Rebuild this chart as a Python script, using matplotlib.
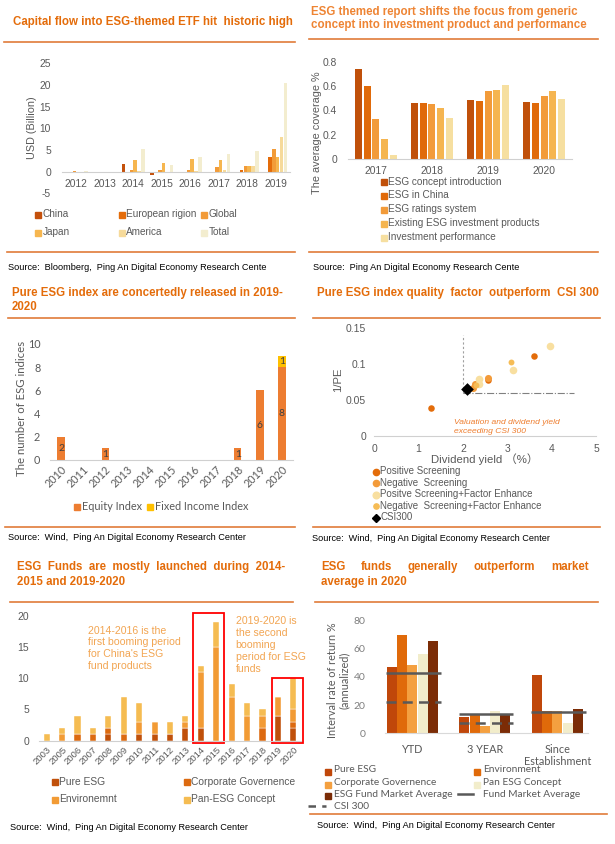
import matplotlib
matplotlib.use('Agg')
import matplotlib.pyplot as plt
from matplotlib.lines import Line2D
from matplotlib.patches import Rectangle
import numpy as np

plt.rcParams['font.family'] = ['Liberation Sans', 'DejaVu Sans']
plt.rcParams['axes.unicode_minus'] = False

# ---------------- DATA ----------------
# Panel 1: ETF capital flow (USD billion)
etf_years = ['2012', '2013', '2014', '2015', '2016', '2017', '2018', '2019']
etf_series = ['China', 'European rigion', 'Global', 'Japan', 'America', 'Total']
etf_china = [0, 0, 1.7, -0.7, -0.4, 0, 0, 0]
etf_europe = [0, 0, 0, 0, 0, 0, 0.5, 3.5]
etf_global = [0.2, -0.2, 0.4, 0.4, 0.4, 1.0, 1.4, 5.2]
etf_japan = [0, 0, 2.6, 1.9, 3.0, 2.7, 1.4, 3.5]
etf_america = [0, 0, 0.2, 0, 0.1, 0.4, 1.4, 7.9]
etf_total = [0.15, -0.15, 5.3, 1.6, 3.3, 4.2, 4.8, 20.5]

# Panel 2: report coverage
rep_years = ['2017', '2018', '2019', '2020']
rep_series = ['ESG concept introduction', 'ESG in China', 'ESG ratings system',
              'Existing ESG investment products', 'Investment performance']
rep_concept = [0.74, 0.46, 0.49, 0.47]
rep_china = [0.60, 0.465, 0.48, 0.46]
rep_ratings = [0.33, 0.45, 0.56, 0.52]
rep_products = [0.17, 0.42, 0.57, 0.56]
rep_perf = [0.035, 0.34, 0.61, 0.495]

# Panel 3: number of pure ESG indices
idx_years = ['2010', '2011', '2012', '2013', '2014', '2015', '2016', '2017', '2018', '2019', '2020']
idx_equity = [2, 0, 1, 0, 0, 0, 0, 0, 1, 6, 8]
idx_fixed = [0, 0, 0, 0, 0, 0, 0, 0, 0, 0, 1]

# Panel 4: dividend yield vs 1/PE
pos_x = [1.28, 3.61, 2.57]
pos_y = [0.039, 0.111, 0.078]
neg_x = [2.56, 2.27, 2.22]
neg_y = [0.081, 0.072, 0.067]
posf_x = [3.96, 3.12, 2.37, 2.36]
posf_y = [0.125, 0.092, 0.079, 0.072]
negf_x = [3.09, 2.30]
negf_y = [0.103, 0.070]
csi_x = [2.10]
csi_y = [0.0646]

# Panel 5: ESG funds launched
fund_years = ['2003', '2005', '2006', '2007', '2008', '2009', '2010', '2011', '2012',
              '2013', '2014', '2015', '2016', '2017', '2018', '2019', '2020']
fund_pure = [0, 0, 0, 0, 1, 0, 1, 1, 1, 2, 2, 0, 0, 0, 0, 4, 2]
fund_corp = [0, 0, 1, 1, 1, 1, 0, 0, 0, 0, 0, 0, 0, 0, 2, 0, 1]
fund_env = [0, 1, 0, 0, 0, 0, 2, 2, 0, 1, 9, 15, 7, 4, 2, 3, 2]
fund_pan = [1, 1, 3, 1, 2, 6, 3, 0, 2, 1, 1, 4, 2, 2, 1, 0, 5]

# Panel 6: returns
ret_groups = ['YTD', '3 YEAR', 'Since\nEstablishment']
ret_pure = [46.8, 11.5, 41.7]
ret_env = [70, 13.5, 15.5]
ret_corp = [48.2, 5, 15.9]
ret_pan = [56.6, 16, 7]
ret_esgavg = [65.3, 13.5, 17.3]
ret_fundavg = [42.6, 14, 15]
ret_csi = [22, 7, None]

# ---------------- FIGURE ----------------
W, H = 615, 844
fig = plt.figure(figsize=(W / 100, H / 100), dpi=100)

ORANGE = '#E46C0A'
LINEC = '#E07B39'
GRAY = '#595959'


def fx(x):
    return x / W


def fy(y):
    return 1 - y / H


def add_ax(l, t, r, b):
    return fig.add_axes([l / W, 1 - b / H, (r - l) / W, (b - t) / H])


def ftext(x, y, s, **kw):
    kw.setdefault('va', 'center')
    kw.setdefault('ha', 'left')
    return fig.text(fx(x), fy(y), s, **kw)


def hline(y, x0, x1, color=LINEC, lw=1.2):
    fig.add_artist(Line2D([fx(x0), fx(x1)], [fy(y), fy(y)], color=color, lw=lw,
                          transform=fig.transFigure))


def mark(x, y, color, size=4.5, marker='s'):
    fig.add_artist(Line2D([fx(x)], [fy(y)], marker=marker, ms=size, color=color,
                          mec=color, ls='none', transform=fig.transFigure))


def seg(x0, x1, y, color=GRAY, lw=1.8, ls='-'):
    fig.add_artist(Line2D([fx(x0), fx(x1)], [fy(y), fy(y)], color=color, lw=lw, ls=ls,
                          transform=fig.transFigure))


def clean(ax):
    for s in ax.spines.values():
        s.set_visible(False)
    ax.tick_params(length=0, colors=GRAY)


TFS = 8.3
SFS = 6.6

# ======== Panel 1 ========
ftext(12.7, 21.7, 'Capital flow into ESG-themed ETF hit  historic high', fontsize=TFS,
      fontweight='bold', color=ORANGE)
hline(42, 4, 295)
ax1 = add_ax(62, 63.3, 290, 193.4)
clean(ax1)
c1 = ['#C4510C', '#E46C0A', '#F29B38', '#F6B64F', '#F6DA9A', '#F3EDCF']
vals1 = [etf_china, etf_europe, etf_global, etf_japan, etf_america, etf_total]
x1 = np.arange(len(etf_years))
for i, (v, c) in enumerate(zip(vals1, c1)):
    ax1.bar(x1 + (i - 2.5) * 0.134, v, width=0.125, color=c)
ax1.set_xlim(-0.5, len(etf_years) - 0.5)
ax1.set_ylim(-5, 25)
ax1.set_yticks(range(-5, 26, 5))
ax1.set_xticks(x1)
ax1.set_xticklabels(etf_years)
ax1.spines['bottom'].set_visible(True)
ax1.spines['bottom'].set_position(('data', 0))
ax1.spines['bottom'].set_color('#D0D0D0')
ax1.tick_params(axis='x', pad=5, labelsize=7.4)
ax1.tick_params(axis='y', pad=8, labelsize=7.4)
ftext(31.7, 128, 'USD (Billion)', rotation=90, ha='center', fontsize=7.8, color=GRAY)
leg1 = [(38.3, 214.3), (122.3, 214.3), (204.3, 214.3), (38.3, 232.3), (122.3, 232.3), (204.3, 232.3)]
for (lx, ly), c, name in zip(leg1, c1, etf_series):
    mark(lx, ly + 0.5, c, size=4.3)
    ftext(lx + 4, ly, name, fontsize=7.2, color=GRAY)
hline(252, 6.7, 295)
ftext(8.3, 267, 'Source:  Bloomberg,  Ping An Digital Economy Research Cente', fontsize=SFS, color='black')

# ======== Panel 2 ========
ftext(311, 11.7, 'ESG themed report shifts the focus from generic', fontsize=TFS, fontweight='bold', color='#EE8433')
ftext(311, 25.3, 'concept into investment product and performance', fontsize=TFS, fontweight='bold', color='#EE8433')
hline(39.3, 309, 598)
ax2 = add_ax(348, 61.7, 572, 159.3)
clean(ax2)
c2 = ['#C0500A', '#E06A0A', '#F29B3A', '#F5B550', '#F6DFA0']
vals2 = [rep_concept, rep_china, rep_ratings, rep_products, rep_perf]
x2 = np.arange(len(rep_years))
for i, (v, c) in enumerate(zip(vals2, c2)):
    ax2.bar(x2 + (i - 2) * 0.152, v, width=0.125, color=c)
ax2.set_xlim(-0.5, 3.5)
ax2.set_ylim(0, 0.8)
ax2.set_yticks([0, 0.2, 0.4, 0.6, 0.8])
ax2.set_yticklabels(['0', '0.2', '0.4', '0.6', '0.8'])
ax2.set_xticks(x2)
ax2.set_xticklabels(rep_years)
ax2.spines['bottom'].set_visible(True)
ax2.spines['bottom'].set_color('#D0D0D0')
ax2.tick_params(axis='x', pad=5, labelsize=7.4)
ax2.tick_params(axis='y', pad=8, labelsize=7.4)
ftext(316.7, 133, 'The average coverage %', rotation=90, ha='center', fontsize=7.8, color=GRAY)
for k, (c, name) in enumerate(zip(c2, rep_series)):
    ly = [181.7, 195, 209.3, 223.3, 237.3][k]
    mark(384, ly + 0.5, c, size=4.3)
    ftext(388.3, ly, name, fontsize=7.2, color=GRAY)
hline(252, 309, 598)
ftext(313.3, 267, 'Source:  Ping An Digital Economy Research Cente', fontsize=SFS, color='black')

# ======== Panel 3 ========
ftext(12, 292.7, 'Pure ESG index are concertedly released in 2019-', fontsize=TFS, fontweight='bold', color=ORANGE)
ftext(12, 306.7, '2020', fontsize=TFS, fontweight='bold', color=ORANGE)
hline(317.7, 8.3, 295)
ax3 = add_ax(50, 344, 293, 460)
clean(ax3)
x3 = np.arange(len(idx_years))
ax3.bar(x3, idx_equity, width=0.33, color='#ED7D31')
ax3.bar(x3, idx_fixed, bottom=idx_equity, width=0.33, color='#FFC000')
for i in x3:
    if idx_equity[i] > 0:
        ax3.text(i, idx_equity[i] / 2, str(idx_equity[i]), ha='center', va='center', fontsize=7.5,
                 color='#404040', family=['Lato', 'DejaVu Sans'])
    if idx_fixed[i] > 0:
        ax3.text(i, idx_equity[i] + idx_fixed[i] / 2, str(idx_fixed[i]), ha='center', va='center',
                 fontsize=7.5, color='#404040', family=['Lato', 'DejaVu Sans'])
ax3.set_xlim(-0.5, 10.5)
ax3.set_ylim(0, 10)
ax3.set_yticks(range(0, 11, 2))
ax3.set_xticks(x3)
ax3.set_xticklabels(idx_years, rotation=45, ha='right', va='top', rotation_mode='anchor')
ax3.spines['bottom'].set_visible(True)
ax3.spines['bottom'].set_color('#D0D0D0')
for lab in ax3.get_xticklabels() + ax3.get_yticklabels():
    lab.set_family(['Lato', 'DejaVu Sans'])
ax3.tick_params(axis='x', pad=3, labelsize=7.8)
ax3.tick_params(axis='y', pad=7, labelsize=7.8)
ftext(21.7, 408, 'The number of ESG indices', rotation=90, ha='center', fontsize=8.2, color=GRAY,
      family=['Lato', 'DejaVu Sans'])
mark(76.7, 507, '#ED7D31', size=4.3)
ftext(82, 506.7, 'Equity Index', fontsize=7.8, color=GRAY, family=['Lato', 'DejaVu Sans'])
mark(149.7, 507, '#FFC000', size=4.3)
ftext(155, 506.7, 'Fixed Income Index', fontsize=7.8, color=GRAY, family=['Lato', 'DejaVu Sans'])
hline(526.7, 5, 295)
ftext(8.3, 537.5, 'Source:  Wind,  Ping An Digital Economy Research Center', fontsize=SFS, color='black')

# ======== Panel 4 ========
ftext(316.7, 292.7, 'Pure ESG index quality  factor  outperform  CSI 300', fontsize=TFS, fontweight='bold', color=ORANGE)
hline(318.3, 313, 600)
ax4 = add_ax(374.3, 327.7, 596, 436)
clean(ax4)
ax4.plot([2, 2], [0.06, 0.14], color='#A0A0A0', lw=0.8, ls=(0, (2, 2)))
ax4.plot([2, 4.5], [0.06, 0.06], color='#808080', lw=0.8, ls='-.')
ax4.scatter(pos_x, pos_y, s=22, color='#E36C0A', zorder=3, linewidths=0)
ax4.scatter(neg_x, neg_y, s=26, color='#F39B3A', zorder=3, linewidths=0)
ax4.scatter(posf_x, posf_y, s=30, color='#F8DFA0', zorder=3, linewidths=0)
ax4.scatter(negf_x, negf_y, s=18, color='#F6BC55', zorder=3, linewidths=0)
ax4.scatter(csi_x, csi_y, s=42, color='black', marker='D', zorder=4, linewidths=0)
ax4.set_xlim(0, 5)
ax4.set_ylim(0, 0.15)
ax4.set_xticks(range(0, 6))
ax4.set_yticks([0, 0.05, 0.1, 0.15])
ax4.set_yticklabels(['0', '0.05', '0.1', '0.15'])
ax4.spines['bottom'].set_visible(True)
ax4.spines['bottom'].set_color('#D0D0D0')
ax4.tick_params(axis='x', pad=6, labelsize=7.5)
ax4.tick_params(axis='y', pad=6, labelsize=7.5)
ax4.text(1.8, 0.0125, 'Valuation and dividend yield\nexceeding CSI 300', style='italic', color='#EE7D2E',
         fontsize=6.1, ha='left', va='center', linespacing=1.35)
ftext(485, 459, 'Dividend yield （%）', ha='center', fontsize=8.2, color=GRAY,
      family=['Liberation Sans', 'Noto Sans CJK SC', 'DejaVu Sans'])
ftext(338.3, 380, '1/PE', rotation=90, ha='center', fontsize=8.2, color=GRAY)
leg4 = [('Positive Screening', '#E36C0A', 'o', 4.5), ('Negative  Screening', '#F39B3A', 'o', 4.5),
        ('Positve Screening+Factor Enhance', '#F8DFA0', 'o', 4.8),
        ('Negative  Screening+Factor Enhance', '#F6BC55', 'o', 3.8), ('CSI300', 'black', 'D', 4.0)]
for k, (name, c, m, ms) in enumerate(leg4):
    ly = [471, 482.7, 494, 505.7, 517][k]
    mark(375.7, ly + 0.5, c, size=ms, marker=m)
    ftext(380.3, ly, name, fontsize=7.0, color=GRAY)
hline(526.7, 313, 600)
ftext(311.7, 538.3, 'Source:  Wind,  Ping An Digital Economy Research Center', fontsize=SFS, color='black')

# ======== Panel 5 ========
ftext(16.7, 566.7, 'ESG  Funds  are  mostly  launched  during  2014-', fontsize=TFS, fontweight='bold', color=ORANGE)
ftext(16.7, 581.7, '2015 and 2019-2020', fontsize=TFS, fontweight='bold', color=ORANGE)
hline(601.7, 10, 293)
ax5 = add_ax(39, 615.7, 301, 740.7)
clean(ax5)
c5 = ['#C0500A', '#DC6A10', '#F29B35', '#F5BC52']
x5 = np.arange(len(fund_years))
bottom = np.zeros(len(fund_years))
for v, c in zip([fund_pure, fund_corp, fund_env, fund_pan], c5):
    ax5.bar(x5, v, bottom=bottom, width=0.4, color=c, edgecolor='white', linewidth=0.3)
    bottom = bottom + np.array(v)
ax5.set_xlim(-0.5, 16.5)
ax5.set_ylim(0, 20)
ax5.set_yticks(range(0, 21, 5))
ax5.set_xticks(x5)
ax5.set_xticklabels(fund_years, rotation=45, ha='right', va='top', rotation_mode='anchor')
ax5.spines['bottom'].set_visible(True)
ax5.spines['bottom'].set_color('#D0D0D0')
ax5.tick_params(axis='x', pad=3, labelsize=6.8)
ax5.tick_params(axis='y', pad=7, labelsize=7.5)
ax5.add_patch(Rectangle((9.5, -0.3), 2.02, 20.8, fill=False, edgecolor='#FF0000', lw=1.3, clip_on=False))
ax5.add_patch(Rectangle((14.65, -0.3), 2.0, 10.3, fill=False, edgecolor='#FF0000', lw=1.3, clip_on=False))
ftext(88.3, 648.3, "2014-2016 is the\nfirst booming period\nfor China's ESG\nfund products", fontsize=7.6,
      color='#F2A552', linespacing=1.22)
ftext(235.7, 645, '2019-2020 is\nthe second\nbooming\nperiod for ESG\nfunds', fontsize=7.6,
      color='#F2A552', linespacing=1.22)
leg5 = [('Pure ESG', 55, 781.7), ('Corporate Governence', 186.7, 781.7),
        ('Environemnt', 55, 799.3), ('Pan-ESG Concept', 186.7, 799.3)]
for (name, lx, ly), c in zip(leg5, c5):
    mark(lx, ly + 0.5, c, size=4.3)
    ftext(lx + 4, ly, name, fontsize=7.4, color=GRAY)
ftext(10, 827.3, 'Source:  Wind,  Ping An Digital Economy Research Center', fontsize=SFS, color='black')

# ======== Panel 6 ========
for wx, w in zip([321, 361, 407.7, 474, 551], ['ESG', 'funds', 'generally', 'outperform', 'market']):
    ftext(wx, 566.7, w, fontsize=TFS, fontweight='bold', color=ORANGE)
ftext(321, 581.7, 'average in 2020', fontsize=TFS, fontweight='bold', color=ORANGE)
hline(601.7, 315, 598)
ax6 = add_ax(385, 620.7, 588, 733.3)
clean(ax6)
c6 = ['#C0470A', '#E06A0A', '#F4A040', '#F2EDCB', '#7B2C06']
x6 = np.arange(len(ret_groups))
for i, (v, c) in enumerate(zip([ret_pure, ret_env, ret_corp, ret_pan, ret_esgavg], c6)):
    ax6.bar(x6 + (i - 2) * 0.1407, v, width=0.138, color=c)
for i in x6:
    ax6.plot([i - 0.36, i + 0.39], [ret_fundavg[i]] * 2, color=GRAY, lw=1.8, solid_capstyle='butt')
    if ret_csi[i] is not None:
        ax6.plot([i - 0.36, i + 0.39], [ret_csi[i]] * 2, color=GRAY, lw=1.8, ls=(0, (4, 2.5)))
ax6.set_xlim(-0.377, 2.423)
ax6.set_ylim(0, 80)
ax6.set_yticks(range(0, 81, 20))
ax6.set_xticks(x6)
ax6.set_xticklabels(ret_groups, va='top', linespacing=1.1)
ax6.spines['bottom'].set_visible(True)
ax6.spines['bottom'].set_color('#D9D9D9')
for lab in ax6.get_xticklabels() + ax6.get_yticklabels():
    lab.set_family(['Lato', 'DejaVu Sans'])
ax6.tick_params(axis='x', pad=8, labelsize=7.8)
ax6.tick_params(axis='y', pad=14, labelsize=7.5, colors='#7F7F7F')
ftext(338, 680, 'Interval rate of return %\n(annualized)', rotation=90, ha='center', fontsize=7.8,
      color=GRAY, family=['Lato', 'DejaVu Sans'], linespacing=1.1, multialignment='center')
lfam = ['Lato', 'DejaVu Sans']
leg6 = [('Pure ESG', 328.3, 770, c6[0]), ('Environment', 476.7, 770, c6[1]),
        ('Corporate Governence', 328.3, 782.7, c6[2]), ('Pan ESG Concept', 476.7, 782.7, c6[3]),
        ('ESG Fund Market Average', 328.3, 794.3, c6[4])]
for name, lx, ly, c in leg6:
    mark(lx, ly + 2, c, size=4.6)
    ftext(lx + 6, ly, name, fontsize=7.3, color=GRAY, family=lfam)
seg(458.3, 473.3, 794.3)
ftext(482.7, 794.3, 'Fund Market Average', fontsize=7.3, color=GRAY, family=lfam)
seg(307.7, 325.7, 806.3, ls=(0, (3, 2.5)))
ftext(334.3, 806.3, 'CSI 300', fontsize=7.3, color=GRAY, family=lfam)
hline(814.3, 310, 606.7)
ftext(316.7, 826, 'Source:  Wind,  Ping An Digital Economy Research Center', fontsize=SFS, color='black')

fig.savefig('out.png', dpi=100)
